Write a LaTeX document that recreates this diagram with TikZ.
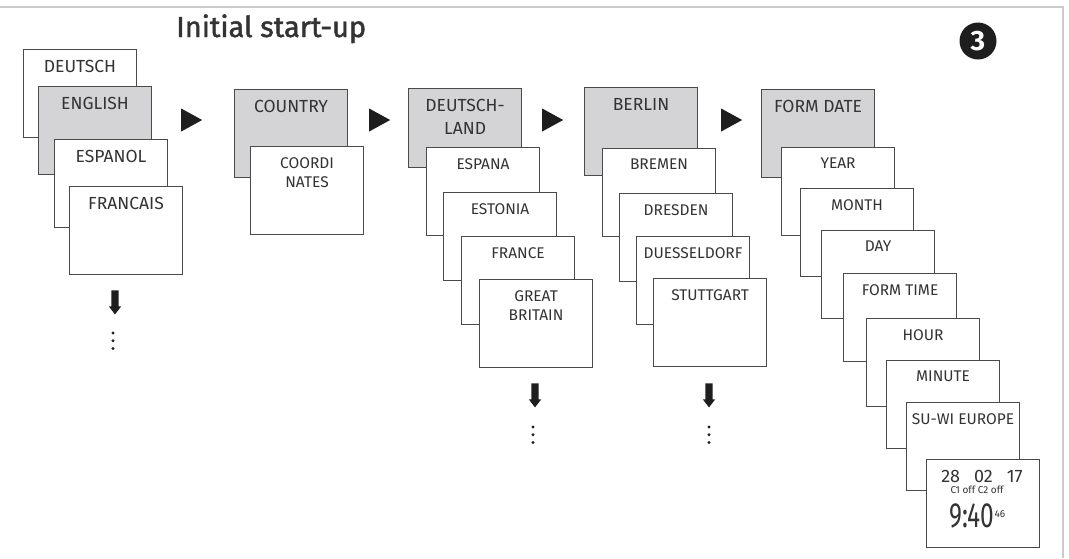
\documentclass[tikz,border=0pt]{standalone}
\usepackage{fontspec}
\setmainfont{Fira Sans}
\newfontfamily\headfont[FakeBold=1.5]{Fira Sans}
\usepackage{tikz}
\usetikzlibrary{shapes,arrows,positioning,calc}

\definecolor{edge}{HTML}{4A4A4A}
\definecolor{panel}{HTML}{D4D4D6}
\definecolor{ink}{HTML}{333333}
\definecolor{rim}{HTML}{CCCCCC}
\definecolor{blackish}{HTML}{1E1E1E}

\begin{document}
\begin{tikzpicture}[x=1pt, y=-1pt,
    lbl/.style={anchor=north, yshift=-11pt, inner sep=0pt, align=center, text=ink, font=\fontsize{17.5}{23}\selectfont},
    screen/.style={rectangle, draw=edge, line width=1.1pt, fill=white, minimum width=113pt, minimum height=88pt, anchor=north west, inner sep=0pt, label={[lbl]north:#1}},
    item/.style={rectangle, draw=edge, line width=1.1pt, fill=white, minimum width=113pt, minimum height=88pt, anchor=north west, inner sep=0pt, label={[lbl, font=\fontsize{15.5}{19.5}\selectfont]north:#1}},
    menu/.style={screen=#1, fill=panel},
    play/.style={isosceles triangle, isosceles triangle stretches, fill=blackish, inner sep=0pt, minimum width=23pt, minimum height=21pt},
    down/.style={single arrow, shape border rotate=270, fill=blackish, inner sep=3.5pt, single arrow head extend=2.5pt, single arrow tip angle=75, minimum height=24pt},
    title/.style={anchor=base west, inner sep=0pt, text=ink, font=\headfont\fontsize{29}{29}\selectfont}]

\useasboundingbox (0,0) rectangle (1069,558);

% Frame and heading
\draw[rim, line width=2pt] (0,7) -- (1063,7) -- (1063,558);
\node[title] (heading) at (176,37) {Initial start-up};
\node[circle, fill=blackish, minimum size=37pt, inner sep=0pt, text=white, font=\fontsize{28}{28}\selectfont\bfseries] (stepno) at (978,41) {3};

% Column 1: language
\node[screen=DEUTSCH] (deutsch) at (23,49) {};
\node[menu=ENGLISH] (english) at (38,86) {};
\node[screen=ESPANOL] (espanol) at (54,139) {};
\node[screen=FRANCAIS] (francais) at (69,186) {};

% Column 2: country / coordinates
\node[menu=COUNTRY] (country) at (234,89) {};
\node[item={COORDI\\NATES}] (coordinates) at (250,146) {};

% Column 3: countries
\node[menu={DEUTSCH-\\LAND}, minimum height=79pt] (deutschland) at (408,88) {};
\node[item=ESPANA] (espana) at (426,147) {};
\node[item=ESTONIA] (estonia) at (443,192) {};
\node[item=FRANCE] (france) at (461,236) {};
\node[item={GREAT\\BRITAIN}] (britain) at (479,279) {};

% Column 4: cities
\node[menu=BERLIN] (berlin) at (584,87) {};
\node[item=BREMEN] (bremen) at (602,148) {};
\node[item=DRESDEN] (dresden) at (619,193) {};
\node[item=DUESSELDORF] (duesseldorf) at (636,236) {};
\node[item=STUTTGART] (stuttgart) at (653,278) {};

% Column 5: date and time
\node[menu={FORM DATE}] (formdate) at (761,89) {};
\node[item=YEAR] (year) at (781,147) {};
\node[item=MONTH] (month) at (800,188) {};
\node[item=DAY] (day) at (821,230) {};
\node[item={FORM TIME}] (formtime) at (843,273) {};
\node[item=HOUR] (hour) at (866,318) {};
\node[item=MINUTE] (minute) at (886,360) {};
\node[item={SU-WI EUROPE}] (suwi) at (906,402) {};
\node[item={}] (clock) at (926,459) {};

% Display contents
\node[anchor=base, inner sep=0pt, text=ink, font=\fontsize{18}{18}\selectfont] (date) at (982,482) {28\hspace{14pt}02\hspace{14pt}17};
\node[anchor=base, inner sep=0pt, text=ink, font=\fontsize{10}{10}\selectfont] (channels) at (977,493) {C1 off C2 off};
\node[anchor=base west, inner sep=0pt, text=ink, font=\fontsize{35}{35}\selectfont] (time) at (949,527) {\scalebox{0.7}[1]{9:40}\raisebox{10pt}{\fontsize{10}{10}\selectfont 46}};

% Next-step arrows
\node[play] (next1) at (188,120) {};
\node[play] (next2) at (376,120) {};
\node[play] (next3) at (549,120) {};
\node[play] (next4) at (728,120) {};

% Scroll arrows and dots
\node[down] (scroll1) at (115,300) {};
\node[down] (scroll2) at (535,393) {};
\node[down] (scroll3) at (709,393) {};
\coordinate (more1) at (113,333);
\coordinate (more2) at (533,427);
\coordinate (more3) at (709,427);
\foreach \m in {more1,more2,more3}
    \foreach \k in {0,1,2}
        \fill[blackish] ($(\m)+(0,7.7*\k)$) circle (1.6pt);

\end{tikzpicture}
\end{document}
